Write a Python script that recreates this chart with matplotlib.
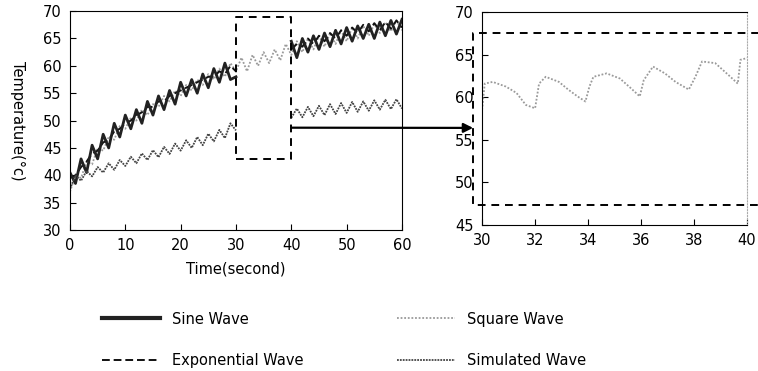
import numpy as np
import matplotlib.pyplot as plt
from matplotlib.lines import Line2D

plt.rcParams['font.family'] = ['DejaVu Sans']
plt.rcParams['font.size'] = 10.5

nan = np.nan

# Data

time = np.arange(0, 61)

sine_wave = [40.5, 38.5, 43, 40.5, 45.5, 43, 47.5, 45, 49.5, 47,
             51, 48.5, 52, 49.5, 53.5, 51, 54.5, 52, 55.5, 53,
             57, 54.5, 57.5, 55, 58.5, 56, 59.5, 57, 60.5, 57.5,
             58, nan, nan, nan, nan, nan, nan, nan, nan, nan,
             64.5, 61.5, 65, 62.5, 65.5, 63, 66, 63.5, 66.5, 64,
             67, 64.5, 67.3, 65, 67.6, 65, 68, 65.5, 68.3, 65.8,
             68.5]

exponential_wave = [39.5, 40, 41.5, 42.5, 44, 44.5, 46, 46.5, 48, 48.5,
                    49.5, 50, 51, 51.5, 52.5, 52.5, 53.5, 53.5, 54.5, 55,
                    55.5, 56, 56.5, 57, 57.5, 58, 58, 59, 58.5, 60,
                    59, nan, nan, nan, nan, nan, nan, nan, nan, nan,
                    63, 64, 63.5, 65, 64, 65.5, 64.5, 66, 65, 66.5,
                    65.5, 67, 66, 67.5, 66.3, 67.8, 66.5, 68, 66.8, 68.3,
                    67]

square_wave = [37, 40, 39.5, 42.5, 42, 45, 44.5, 47, 46.5, 49,
               48.5, 50.5, 50, 52, 51, 53, 52.5, 54.5, 53.5, 55.5,
               54.5, 56.5, 55.5, 57.5, 56.5, 58.5, 57.5, 59.5, 58, 60.5,
               59, 61.5, 59, 62, 60, 62.5, 60.5, 63, 61, 64,
               62, 64.5, 62.5, 65, 63, 65.5, 63.5, 66, 64, 66.5,
               64.5, 67, 65, 67.3, 65.5, 67.6, 66, 68, 66.3, 68.3,
               66.5]

simulated_wave = [37.5, 40, 39, 40.8, 39.8, 41.5, 40.5, 42.2, 41, 42.8,
                  41.7, 43.4, 42.2, 44, 42.8, 44.6, 43.3, 45.2, 43.9, 45.8,
                  44.5, 46.4, 45, 47, 45.5, 47.6, 46.2, 48.3, 46.8, 49.5,
                  48.2, nan, nan, nan, nan, nan, nan, nan, nan, nan,
                  50.5, 52.2, 50.6, 52.5, 50.8, 52.7, 51, 53, 51.2, 53.2,
                  51.4, 53.4, 51.6, 53.5, 51.8, 53.7, 52, 53.8, 52.1, 53.9,
                  52.2]

# zoomed square wave, 30 - 40 s
zoom_time = [30, 30.1, 30.4, 30.9, 31.3, 31.65, 32.0, 32.15, 32.4, 32.9,
             33.25, 33.6, 33.9, 34.05, 34.2, 34.7, 35.2, 35.6, 35.95, 36.1,
             36.45, 36.9, 37.3, 37.8, 38.05, 38.3, 38.8, 39.3, 39.65, 39.75,
             40]
zoom_square = [58.5, 61.6, 61.8, 61.25, 60.5, 59.1, 58.7, 61.6, 62.4, 61.8,
               60.9, 60.1, 59.5, 61.25, 62.4, 62.8, 62.2, 61.1, 60.1, 62.0,
               63.6, 62.8, 61.8, 60.9, 62.4, 64.2, 64.0, 62.6, 61.6, 64.4,
               64.6]

labels = ['Sine Wave', 'Exponential Wave', 'Square Wave', 'Simulated Wave']

# Figure

fig = plt.figure(figsize=(7.58, 3.71), dpi=100)

ax1 = fig.add_axes([0.0923, 0.380, 0.438, 0.590])
ax2 = fig.add_axes([0.636, 0.3935, 0.3496, 0.574])

sine_style = dict(color='#222222', lw=2.0, ls='-')
exp_style = dict(color='#111111', lw=1.4, ls=(0, (4, 2)))
square_style = dict(color='#9a9a9a', lw=1.3, ls=(0, (1, 1)))
sim_style = dict(color='#444444', lw=1.3, ls=(0, (1, 0.6)))

ax1.plot(time, square_wave, **square_style)
ax1.plot(time, exponential_wave, **exp_style)
ax1.plot(time, sine_wave, **sine_style)
ax1.plot(time, simulated_wave, **sim_style)

ax1.set_xlim(0, 60)
ax1.set_ylim(30, 70)
ax1.set_xticks(range(0, 61, 10))
ax1.set_yticks(range(30, 71, 5))
ax1.tick_params(direction='in', length=4, pad=6)
ax1.set_xlabel('Time(second)', labelpad=6)
ax1.set_ylabel('Temperature(°c)', rotation=-90, labelpad=24)

# zoom box on left panel
ax1.plot([30, 40, 40, 30, 30], [43, 43, 69, 69, 43], color='black',
         lw=1.4, ls=(0, (4, 3)), clip_on=False)

ax2.plot(zoom_time, zoom_square, **square_style)
ax2.set_xlim(30, 40)
ax2.set_ylim(45, 70)
ax2.set_xticks(range(30, 41, 2))
ax2.set_yticks(range(45, 71, 5))
ax2.tick_params(direction='in', length=4, pad=6)
ax2.spines['right'].set_color('#aaaaaa')
ax2.spines['right'].set_linestyle(':')

# dashed frame around right panel
ax2.plot([40.45, 29.66, 29.66, 40.45], [67.5, 67.5, 47.3, 47.3], color='black',
         lw=1.4, ls=(0, (4, 3)), clip_on=False)

# arrow from left box to right panel
ax2.annotate('', xy=(29.66, 56.4), xycoords=ax2.transData,
             xytext=(40, 48.7), textcoords=ax1.transData,
             arrowprops=dict(arrowstyle='-|>', color='black', lw=1.6,
                             mutation_scale=14, shrinkA=0, shrinkB=0))

# Legend
handles = [Line2D([], [], **sine_style), Line2D([], [], **exp_style),
           Line2D([], [], **square_style), Line2D([], [], **sim_style)]
handles[0].set_linewidth(3)
fig.legend(handles, labels, ncol=2, frameon=False,
           loc='upper left', bbox_to_anchor=(0.125, 0.18),
           handlelength=4.0, handletextpad=0.8, columnspacing=6.4,
           labelspacing=1.85, borderpad=0, fontsize=10.5)

plt.savefig('out.png', dpi=100)
